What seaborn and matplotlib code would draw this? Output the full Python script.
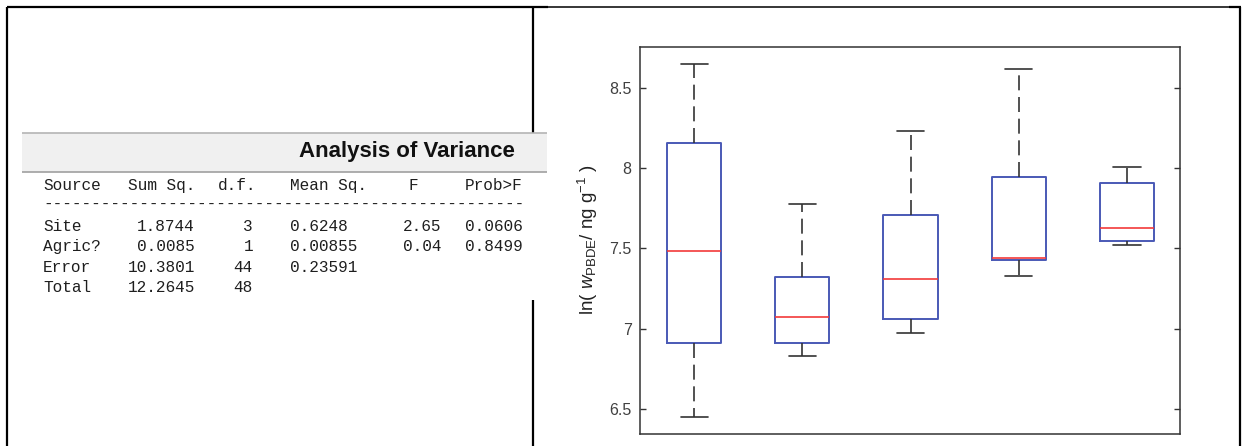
import numpy as np
import pandas as pd
import matplotlib
matplotlib.use("Agg")
import matplotlib.pyplot as plt
import seaborn as sns
from matplotlib.lines import Line2D
from matplotlib.patches import Rectangle

# ---------------------------------------------------------------- data
# ANOVA table (kept as printed strings so the formatting is preserved)
anova_header = ["Source", "Sum Sq.", "d.f.", "Mean Sq.", "F", "Prob>F"]
anova_source = ["Site", "Agric?", "Error", "Total"]
anova_sumsq = ["1.8744", "0.0085", "10.3801", "12.2645"]
anova_df = ["3", "1", "44", "48"]
anova_meansq = ["0.6248", "0.00855", "0.23591", ""]
anova_f = ["2.65", "0.04", "", ""]
anova_p = ["0.0606", "0.8499", "", ""]

# Five-number summaries of ln(w_PBDE / ng g^-1) for each site
sites = ["A", "B", "C", "D", "E"]
whisker_low = [6.448, 6.827, 6.975, 7.327, 7.521]
quart_1 = [6.911, 6.911, 7.062, 7.425, 7.548]
median = [7.486, 7.074, 7.311, 7.442, 7.626]
quart_3 = [8.160, 7.321, 7.711, 7.946, 7.908]
whisker_high = [8.650, 7.777, 8.234, 8.618, 8.006]

yticks = [6.5, 7.0, 7.5, 8.0, 8.5]
yticklabels = ["6.5", "7", "7.5", "8", "8.5"]

# long-form table for seaborn
records = []
for i, s in enumerate(sites):
    for v in (whisker_low[i], quart_1[i], median[i], quart_3[i], whisker_high[i]):
        records.append({"site": s, "value": v})
df = pd.DataFrame(records)

# ---------------------------------------------------------------- style
W, H, DPI = 1242, 446, 100
sns.set_theme(style="white")
plt.rcParams["font.family"] = ["Liberation Sans", "DejaVu Sans"]
plt.rcParams["mathtext.fontset"] = "custom"
plt.rcParams["mathtext.rm"] = "Liberation Sans"
plt.rcParams["mathtext.it"] = "Liberation Sans:italic"
plt.rcParams["mathtext.bf"] = "Liberation Sans:bold"

BOX_BLUE = "#4a59b6"
MED_RED = "#f23a3a"
WHISK = "#333333"
FRAME = "#333333"

fig = plt.figure(figsize=(W / DPI, H / DPI), dpi=DPI)
fig.patch.set_facecolor("white")


def fx(x):
    return x / W


def fy(y):
    return 1 - y / H


def seg(x0, y0, x1, y1, lw, color="black", z=5):
    fig.add_artist(Line2D([fx(x0), fx(x1)], [fy(y0), fy(y1)],
                          transform=fig.transFigure, lw=lw, color=color,
                          solid_capstyle="butt", zorder=z))


# ---------------------------------------------------------------- page frame
seg(7, 7, 548, 7, 1.6)
seg(548, 7, 1229, 7, 1.1)
seg(1229, 7, 1241, 7, 1.6)
seg(7, 7, 7, 446, 1.6)
seg(1240, 7, 1240, 446, 1.6)
seg(533, 7, 533, 446, 1.6, z=2)

# ---------------------------------------------------------------- ANOVA panel
fig.add_artist(Rectangle((fx(22), fy(300)), fx(547) - fx(22), fy(172) - fy(300),
                         transform=fig.transFigure, facecolor="white",
                         edgecolor="none", zorder=3))
fig.add_artist(Rectangle((fx(22), fy(172)), fx(547) - fx(22), fy(133) - fy(172),
                         transform=fig.transFigure, facecolor="#f0f0f0",
                         edgecolor="none", zorder=3))
seg(22, 133, 547, 133, 1.2, color="#b4b4b4", z=4)
seg(22, 172, 547, 172, 1.2, color="#a0a0a0", z=4)
fig.text(fx(515), fy(152), "Analysis of Variance", ha="right", va="center",
         fontsize=16, fontweight="bold", color="#111111", zorder=6)

mono = dict(family="Liberation Mono", fontsize=11.6, color="#1e1e1e", zorder=6)
hy = 190
fig.text(fx(43), fy(hy), anova_header[0], ha="left", va="baseline", **mono)
fig.text(fx(128), fy(hy), anova_header[1], ha="left", va="baseline", **mono)
fig.text(fx(218), fy(hy), anova_header[2], ha="left", va="baseline", **mono)
fig.text(fx(290), fy(hy), anova_header[3], ha="left", va="baseline", **mono)
fig.text(fx(413), fy(hy), anova_header[4], ha="center", va="baseline", **mono)
fig.text(fx(465), fy(hy), anova_header[5], ha="left", va="baseline", **mono)
fig.text(fx(43), fy(209), "-" * 50, ha="left", va="baseline", **mono)

row_y = [231, 251, 272, 292]
for i, y in enumerate(row_y):
    fig.text(fx(43), fy(y), anova_source[i], ha="left", va="baseline", **mono)
    fig.text(fx(195), fy(y), anova_sumsq[i], ha="right", va="baseline", **mono)
    fig.text(fx(253), fy(y), anova_df[i], ha="right", va="baseline", **mono)
    fig.text(fx(290), fy(y), anova_meansq[i], ha="left", va="baseline", **mono)
    fig.text(fx(403), fy(y), anova_f[i], ha="left", va="baseline", **mono)
    fig.text(fx(465), fy(y), anova_p[i], ha="left", va="baseline", **mono)

# ---------------------------------------------------------------- box plot
ax = fig.add_axes([fx(640), fy(434), (1180 - 640) / W, (434 - 47) / H])
ax.set_facecolor("white")
sns.boxplot(
    data=df, x="site", y="value", order=sites, ax=ax,
    width=0.5, whis=(0, 100), fill=False, showfliers=False,
    color=BOX_BLUE, linewidth=1.2,
    boxprops=dict(color=BOX_BLUE, linewidth=1.4),
    medianprops=dict(color=MED_RED, linewidth=1.2),
    whiskerprops=dict(color=WHISK, linewidth=1.2, linestyle=(0, (9, 4))),
    capprops=dict(color=WHISK, linewidth=1.2),
)

ax.set_xlim(-0.5, 4.49)
ax.set_ylim(6.344, 8.755)
ax.set_xticks([])
ax.set_yticks(yticks)
ax.set_yticklabels(yticklabels)
ax.set_xlabel("")
ax.set_ylabel("")
ax.tick_params(axis="y", direction="in", left=True, right=True, length=4,
               width=1.0, color=FRAME, labelcolor="#404040", labelsize=11.5,
               pad=6)
for sp in ax.spines.values():
    sp.set_visible(True)
    sp.set_color(FRAME)
    sp.set_linewidth(1.1)

fig.text(fx(588), fy(240), r"ln( $w_{\mathrm{PBDE}}$/ ng g$^{-1}$ )",
         rotation=90, ha="center", va="center", fontsize=13.5, color="#222222")

fig.savefig("out.png", dpi=DPI, facecolor="white")
